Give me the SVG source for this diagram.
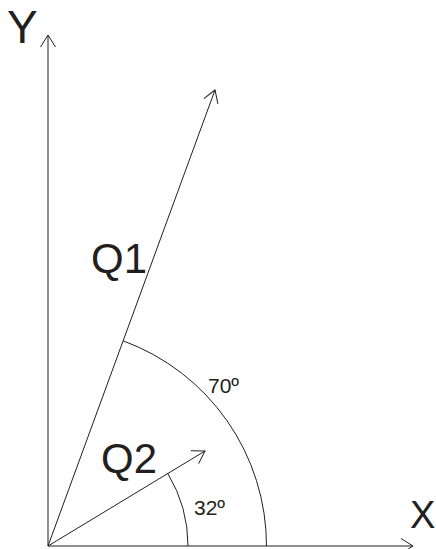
<svg xmlns="http://www.w3.org/2000/svg" width="436" height="549" viewBox="0 0 436 549">
<style>
.ln{fill:none;stroke:#231f20;stroke-width:1}
.big{font-family:"Liberation Sans",Arial,sans-serif;fill:#231f20}
.ang{font-family:"Liberation Sans",Arial,sans-serif;font-size:21px;fill:#231f20}
</style>
<defs>
<marker id="ah" markerUnits="userSpaceOnUse" markerWidth="30" markerHeight="30" refX="0" refY="0" viewBox="-15 -15 30 30" orient="auto" overflow="visible">
<path d="M-12,-7.5 L0,0 L-12,7.5" fill="none" stroke="#231f20" stroke-width="1"/>
</marker>
</defs>
<rect width="436" height="549" fill="#ffffff"/>
<g id="connectors">
<line id="y-axis" class="ln" x1="48" y1="546" x2="48" y2="35" marker-end="url(#ah)"/>
<line id="x-axis" class="ln" x1="48" y1="546" x2="413" y2="546" marker-end="url(#ah)"/>
<line id="q1" class="ln" x1="48" y1="546" x2="215" y2="90" marker-end="url(#ah)"/>
<line id="q2" class="ln" x1="48" y1="546" x2="205" y2="451" marker-end="url(#ah)"/>
<path id="arc70" class="ln" d="M123.1,340.8 A218.5,218.5 0 0 1 266.5,546"/>
<path id="arc32" class="ln" d="M167.8,473.5 A140,140 0 0 1 188,546"/>
</g>
<g id="label-Y"><text class="big" x="7" y="43" font-size="46">Y</text></g>
<g id="label-X"><text class="big" x="410" y="528" font-size="38">X</text></g>
<g id="label-Q1"><text class="big" x="91" y="273" font-size="42">Q1</text></g>
<g id="label-Q2"><text class="big" x="101" y="473" font-size="42">Q2</text></g>
<g id="label-70"><text class="ang" x="208" y="393">70º</text></g>
<g id="label-32"><text class="ang" x="194" y="515">32º</text></g>
</svg>
